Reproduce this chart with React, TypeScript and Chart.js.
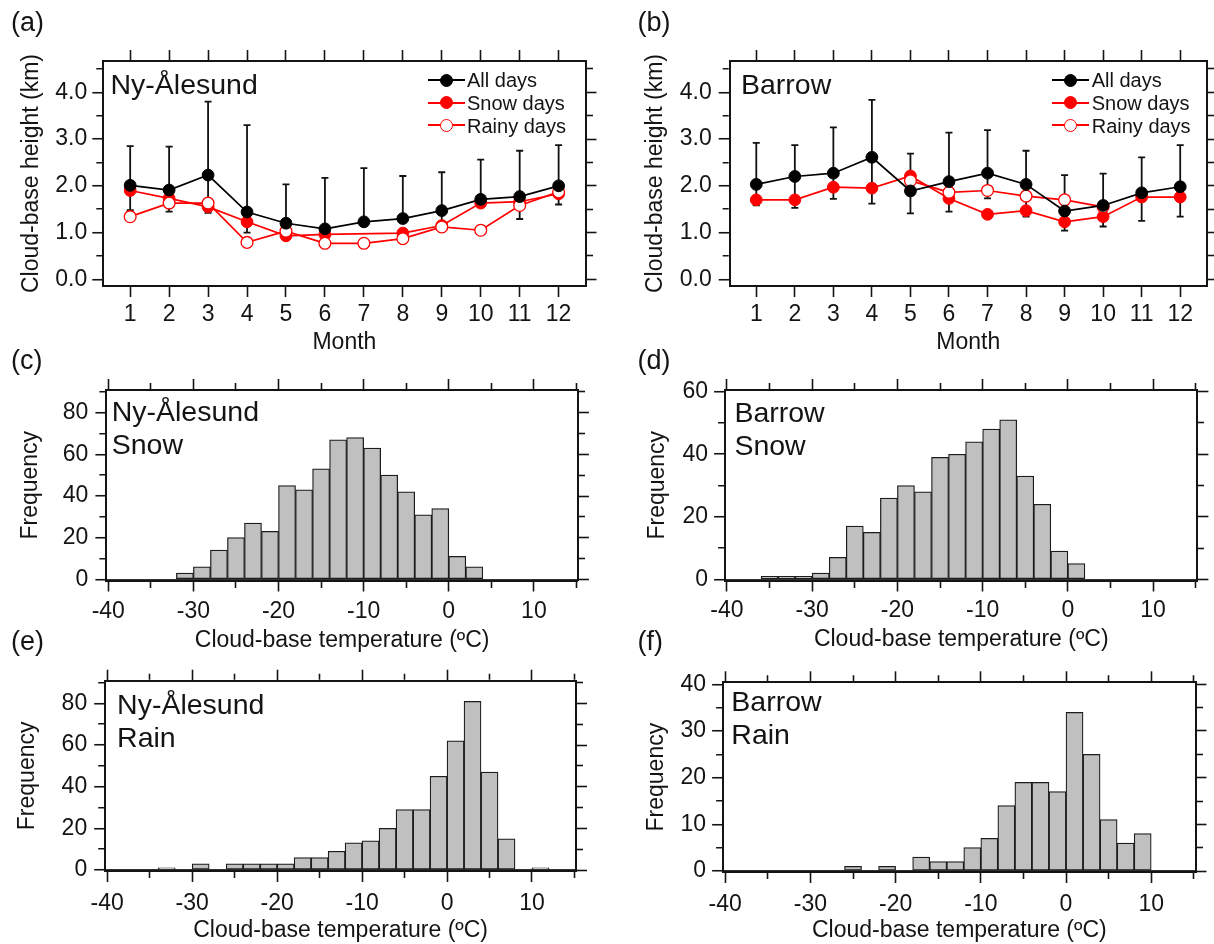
import React, { useEffect, useRef } from "react";
import { Chart, registerables } from "chart.js";

Chart.register(...registerables);

const FONT = '"Liberation Sans", Arial, Helvetica, sans-serif';
const INK = "#141414";
const RED = "#ff0000";

// ---------------- data ----------------
const months = [1, 2, 3, 4, 5, 6, 7, 8, 9, 10, 11, 12];

// (a) Ny-Ålesund monthly cloud-base height (km)
const nyAllDays = [2.01, 1.91, 2.23, 1.44, 1.2, 1.08, 1.23, 1.3, 1.47, 1.71, 1.77, 2.0];
const nyAllHigh = [2.85, 2.84, 3.8, 3.3, 2.03, 2.17, 2.38, 2.21, 2.29, 2.56, 2.75, 2.87];
const nyAllLow = [1.48, 1.45, 1.42, 1.0, null, null, null, null, 1.02, null, 1.29, 1.6];
const nySnowDays = [1.9, 1.73, 1.55, 1.23, 0.93, 0.96, null, 0.99, 1.15, 1.63, 1.66, 1.83];
const nyRainyDays = [1.34, 1.63, 1.63, 0.79, 1.03, 0.77, 0.77, 0.87, 1.12, 1.05, 1.58, 1.87];

// (b) Barrow monthly cloud-base height (km)
const brAllDays = [2.03, 2.2, 2.27, 2.61, 1.89, 2.09, 2.27, 2.03, 1.46, 1.58, 1.85, 1.98];
const brAllHigh = [2.92, 2.87, 3.25, 3.84, 2.69, 3.14, 3.19, 2.75, 2.23, 2.26, 2.61, 2.87];
const brAllLow = [1.58, 1.53, 1.72, 1.62, 1.41, 1.45, 1.73, 1.34, 1.04, 1.13, 1.25, 1.34];
const brSnowDays = [1.7, 1.7, 1.97, 1.95, 2.21, 1.73, 1.39, 1.47, 1.23, 1.34, 1.76, 1.76];
const brRainyDays = [null, null, null, null, 2.11, 1.86, 1.9, 1.78, 1.7, 1.55, null, null];

// histogram bins (2 °C wide), centres
const binCenters = [-39, -37, -35, -33, -31, -29, -27, -25, -23, -21, -19, -17, -15, -13, -11, -9, -7, -5, -3, -1, 1, 3, 5, 7, 9, 11, 13, 15];
const nySnowFreq = [0, 0, 0, 0, 3, 6, 14, 20, 27, 23, 45, 43, 53, 67, 68, 63, 50, 42, 31, 34, 11, 6, 0, 0, 0, 0, 0, 0];
const brSnowFreq = [0, 0, 1, 1, 1, 2, 7, 17, 15, 26, 30, 28, 39, 40, 44, 48, 51, 33, 24, 9, 5, 0, 0, 0, 0, 0, 0, 0];
const nyRainFreq = [0, 0, 0, 1, 0, 3, 0, 3, 3, 3, 3, 6, 6, 9, 13, 14, 20, 29, 29, 45, 62, 81, 47, 15, 0, 1, 0, 0];
const brRainFreq = [0, 0, 0, 0, 0, 0, 0, 1, 0, 1, 0, 3, 2, 2, 5, 7, 14, 19, 19, 17, 34, 25, 11, 6, 8, 0, 0, 0];

const legendLabels = ["All days", "Snow days", "Rainy days"];
const panelLetters = ["(a)", "(b)", "(c)", "(d)", "(e)", "(f)"];
const stationNames = ["Ny-Ålesund", "Barrow"];
const precipTypes = ["Snow", "Rain"];
const xTitleMonth = "Month";
const xTitleTemp = "Cloud-base temperature (ºC)";
const yTitleHeight = "Cloud-base height (km)";
const yTitleFreq = "Frequency";

// ---------------- geometry ----------------
const MAJ = 11;
const MIN = 6;
const BW = 2;
const FS = 23;
const HALF_LH = (FS * 1.2) / 2;
const fontAxis = { family: FONT, size: FS };

const geoA = { cl: 0, ct: 0, cw: 607, ch: 360, L: 103.3, R: 585.5, T: 61, B: 286, xMin: 0.31, xMax: 12.69, xStep: 1, xMajor: 1, yMin: -0.143, yMax: 4.67, yStep: 0.5, yMajor: 1, yDec: 1, xTitle: xTitleMonth, yTitle: yTitleHeight, yTitleX: 31.8, xTitleY: 343, xLabCenter: 29, yLabPad: 5, zeroLine: false };
const geoB = { cl: 607, ct: 0, cw: 607, ch: 360, L: 729.7, R: 1212, T: 61, B: 286, xMin: 0.31, xMax: 12.69, xStep: 1, xMajor: 1, yMin: -0.143, yMax: 4.67, yStep: 0.5, yMajor: 1, yDec: 1, xTitle: xTitleMonth, yTitle: yTitleHeight, yTitleX: 656, xTitleY: 343, xLabCenter: 29, yLabPad: 7, zeroLine: false };
const geoC = { cl: 0, ct: 360, cw: 607, ch: 300, L: 106.4, R: 577.9, T: 390, B: 580.5, xMin: -40.22, xMax: 15.17, xStep: 5, xMajor: 10, yMin: -0.56, yMax: 90.9, yStep: 10, yMajor: 20, yDec: 0, xTitle: xTitleTemp, yTitle: yTitleFreq, yTitleX: 30.2, xTitleY: 640.3, xLabCenter: 31.2, yLabPad: 7, zeroLine: true };
const geoD = { cl: 607, ct: 360, cw: 607, ch: 300, L: 725.1, R: 1197.4, T: 390, B: 580.5, xMin: -40.22, xMax: 15.2, xStep: 5, xMajor: 10, yMin: -0.37, yMax: 60.53, yStep: 10, yMajor: 20, yDec: 0, xTitle: xTitleTemp, yTitle: yTitleFreq, yTitleX: 657.7, xTitleY: 640, xLabCenter: 30.3, yLabPad: 6, zeroLine: true };
const geoE = { cl: 0, ct: 650, cw: 607, ch: 294, L: 105.2, R: 576, T: 680.7, B: 871, xMin: -40.24, xMax: 15.18, xStep: 5, xMajor: 10, yMin: -0.48, yMax: 90.9, yStep: 10, yMajor: 20, yDec: 0, xTitle: xTitleTemp, yTitle: yTitleFreq, yTitleX: 27.7, xTitleY: 931, xLabCenter: 32.3, yLabPad: 7, zeroLine: true };
const geoF = { cl: 607, ct: 650, cw: 607, ch: 294, L: 723.1, R: 1195.5, T: 682.3, B: 872, xMin: -40.25, xMax: 15.2, xStep: 5, xMajor: 10, yMin: -0.21, yMax: 40.43, yStep: 5, yMajor: 10, yDec: 0, xTitle: xTitleTemp, yTitle: yTitleFreq, yTitleX: 656.2, xTitleY: 931, xLabCenter: 33, yLabPad: 6, zeroLine: true };

const isMajor = (v: number, step: number) => Math.abs(v / step - Math.round(v / step)) < 1e-6;

function buildScales(g: any) {
  const rightW = Math.min(MAJ, g.cl + g.cw - g.R);
  const dashOuterFirst = (maj: boolean) => (maj ? [] : [0, MAJ - BW / 2 - MIN, MIN, 100]);
  const dashInnerFirst = (maj: boolean) => (maj ? [] : [MIN, 100]);
  const xm = (c: any) => (c && c.tick ? isMajor(c.tick.value, g.xMajor) : true);
  const ym = (c: any) => (c && c.tick ? isMajor(c.tick.value, g.yMajor) : true);
  const gridBase = { display: true, drawOnChartArea: false, drawTicks: true, tickLength: MAJ, tickWidth: 1.6, tickColor: INK, offset: false };
  const border = { display: true, color: INK, width: BW };
  const xCommon = { type: "linear", min: g.xMin, max: g.xMax, offset: false, display: true };
  const yCommon = { type: "linear", min: g.yMin, max: g.yMax, display: true };
  const xTicks = { stepSize: g.xStep, includeBounds: false, autoSkip: false, maxRotation: 0, minRotation: 0 };
  const yTicks = { stepSize: g.yStep, includeBounds: false, autoSkip: false };
  return {
    x: {
      ...xCommon,
      position: "bottom",
      ticks: { ...xTicks, padding: Math.max(0, g.xLabCenter - MAJ - HALF_LH), color: INK, font: fontAxis, callback: (v: any) => (isMajor(v, g.xMajor) ? String(v) : "") },
      grid: { ...gridBase, tickBorderDash: (c: any) => dashInnerFirst(xm(c)) },
      border,
      title: { display: true, text: g.xTitle, color: INK, font: fontAxis, padding: { top: 0, bottom: Math.max(0, g.ct + g.ch - g.xTitleY - HALF_LH) } },
      afterFit: (s: any) => { s.height = g.ct + g.ch - g.B; },
    },
    x2: {
      ...xCommon,
      position: "top",
      ticks: { ...xTicks, display: false },
      grid: { ...gridBase, tickBorderDash: (c: any) => dashOuterFirst(xm(c)) },
      border,
      afterFit: (s: any) => { s.height = MAJ; },
    },
    y: {
      ...yCommon,
      position: "left",
      ticks: { ...yTicks, padding: g.yLabPad, color: INK, font: fontAxis, callback: (v: any) => (isMajor(v, g.yMajor) ? Number(v).toFixed(g.yDec) : "") },
      grid: {
        ...gridBase,
        drawOnChartArea: g.zeroLine,
        lineWidth: 1.5,
        color: (c: any) => (c && c.tick && c.tick.value === 0 ? "#333333" : "rgba(0,0,0,0)"),
        tickBorderDash: (c: any) => dashOuterFirst(ym(c)),
      },
      border,
      title: { display: true, text: g.yTitle, color: INK, font: fontAxis, padding: { top: g.yTitleX - g.cl - HALF_LH, bottom: 0 } },
      afterFit: (s: any) => { s.width = g.L - g.cl; },
    },
    y2: {
      ...yCommon,
      position: "right",
      ticks: { ...yTicks, display: false },
      grid: { ...gridBase, tickBorderDash: (c: any) => dashInnerFirst(ym(c)) },
      border,
      afterFit: (s: any) => { s.width = rightW; },
    },
  };
}

function baseOptions(g: any) {
  const rightW = Math.min(MAJ, g.cl + g.cw - g.R);
  return {
    animation: false,
    responsive: false,
    devicePixelRatio: 1,
    events: [],
    layout: { padding: { left: 0, top: g.T - g.ct - MAJ, right: g.cl + g.cw - g.R - rightW, bottom: 0 } },
    plugins: { legend: { display: false }, tooltip: { enabled: false }, title: { display: false } },
    scales: buildScales(g),
  };
}

function lineConfig(g: any, all: number[], hi: number[], lo: (number | null)[], snow: (number | null)[], rain: (number | null)[]) {
  const pts = (arr: (number | null)[]) => months.map((m, i) => ({ x: m, y: arr[i] }));
  const errPlugin = {
    id: "errbars",
    beforeDatasetsDraw(chart: any) {
      const ctx = chart.ctx;
      const xs = chart.scales.x;
      const ys = chart.scales.y;
      ctx.save();
      ctx.strokeStyle = "#111111";
      ctx.lineWidth = 1.8;
      ctx.lineCap = "butt";
      months.forEach((m, i) => {
        const px = xs.getPixelForValue(m);
        const pTop = ys.getPixelForValue(hi[i]);
        const hasLo = lo[i] !== null && lo[i] !== undefined;
        const pBot = ys.getPixelForValue(hasLo ? (lo[i] as number) : all[i]);
        ctx.beginPath();
        ctx.moveTo(px, pTop);
        ctx.lineTo(px, pBot);
        ctx.moveTo(px - 3.5, pTop);
        ctx.lineTo(px + 3.5, pTop);
        if (hasLo) {
          ctx.moveTo(px - 3.5, pBot);
          ctx.lineTo(px + 3.5, pBot);
        }
        ctx.stroke();
      });
      ctx.restore();
    },
  };
  const R = 5.9;
  return {
    type: "line",
    data: {
      datasets: [
        { label: legendLabels[0], data: pts(all), borderColor: "#000000", backgroundColor: "#000000", pointBackgroundColor: "#000000", pointBorderColor: "#000000", borderWidth: 1.7, pointRadius: R, pointBorderWidth: 1, tension: 0, fill: false },
        { label: legendLabels[2], data: pts(rain), borderColor: RED, backgroundColor: "#ffffff", pointBackgroundColor: "#ffffff", pointBorderColor: RED, borderWidth: 1.7, pointRadius: R, pointBorderWidth: 1.3, tension: 0, fill: false, spanGaps: false },
        { label: legendLabels[1], data: pts(snow), borderColor: RED, backgroundColor: RED, pointBackgroundColor: RED, pointBorderColor: RED, borderWidth: 1.7, pointRadius: R, pointBorderWidth: 1, tension: 0, fill: false, spanGaps: true },
      ],
    },
    options: baseOptions(g),
    plugins: [errPlugin],
  };
}

function histConfig(g: any, freq: number[]) {
  return {
    type: "bar",
    data: {
      datasets: [
        {
          label: yTitleFreq,
          data: binCenters.map((c, i) => ({ x: c, y: freq[i] })),
          backgroundColor: "#c0c0c0",
          borderColor: "#1c1c1c",
          borderWidth: 1.25,
          borderSkipped: false,
          barPercentage: 1,
          categoryPercentage: 1,
        },
      ],
    },
    options: baseOptions(g),
  };
}

function ChartCanvas({ geo, make }: { geo: any; make: () => any }) {
  const ref = useRef<HTMLCanvasElement | null>(null);
  useEffect(() => {
    if (!ref.current) return;
    const chart = new Chart(ref.current, make());
    return () => chart.destroy();
  }, []);
  return (
    <canvas
      ref={ref}
      width={geo.cw}
      height={geo.ch}
      style={{ position: "absolute", left: geo.cl, top: geo.ct, width: geo.cw, height: geo.ch }}
    />
  );
}

function Txt({ x, y, size, lh, children }: { x: number; y: number; size: number; lh: number; children: any }) {
  return (
    <div
      style={{
        position: "absolute",
        left: x,
        top: y,
        fontFamily: FONT,
        fontSize: size,
        lineHeight: lh + "px",
        whiteSpace: "pre",
        color: INK,
        pointerEvents: "none",
      }}
    >
      {children}
    </div>
  );
}

function Legend({ lineL, lineR, mx, tx }: { lineL: number; lineR: number; mx: number; tx: number }) {
  const rowsY = [80, 102.7, 125.3];
  const styles = [
    { line: "#000000", fill: "#000000", stroke: "#000000" },
    { line: RED, fill: RED, stroke: RED },
    { line: RED, fill: "#ffffff", stroke: RED },
  ];
  return (
    <>
      {legendLabels.map((lab, i) => (
        <React.Fragment key={lab}>
          <div style={{ position: "absolute", left: lineL, top: rowsY[i] - 0.9, width: lineR - lineL, height: 1.8, background: styles[i].line }} />
          <div
            style={{
              position: "absolute",
              left: mx - 6.5,
              top: rowsY[i] - 6.5,
              width: 13,
              height: 13,
              boxSizing: "border-box",
              borderRadius: "50%",
              background: styles[i].fill,
              border: `1.4px solid ${styles[i].stroke}`,
            }}
          />
          <Txt x={tx} y={rowsY[i] - 9.8} size={20} lh={20}>{lab}</Txt>
        </React.Fragment>
      ))}
    </>
  );
}

export default function App() {
  useEffect(() => {
    document.body.style.margin = "0";
    document.body.style.background = "#ffffff";
  }, []);
  return (
    <div style={{ position: "absolute", left: 0, top: 0, width: 1214, height: 944, background: "#ffffff", overflow: "hidden" }}>
      <ChartCanvas geo={geoA} make={() => lineConfig(geoA, nyAllDays, nyAllHigh, nyAllLow, nySnowDays, nyRainyDays)} />
      <ChartCanvas geo={geoB} make={() => lineConfig(geoB, brAllDays, brAllHigh, brAllLow, brSnowDays, brRainyDays)} />
      <ChartCanvas geo={geoC} make={() => histConfig(geoC, nySnowFreq)} />
      <ChartCanvas geo={geoD} make={() => histConfig(geoD, brSnowFreq)} />
      <ChartCanvas geo={geoE} make={() => histConfig(geoE, nyRainFreq)} />
      <ChartCanvas geo={geoF} make={() => histConfig(geoF, brRainFreq)} />

      <Txt x={11} y={8.5} size={27} lh={27}>{panelLetters[0]}</Txt>
      <Txt x={637.5} y={8.5} size={27} lh={27}>{panelLetters[1]}</Txt>
      <Txt x={11} y={346.5} size={27} lh={27}>{panelLetters[2]}</Txt>
      <Txt x={637.5} y={347} size={27} lh={27}>{panelLetters[3]}</Txt>
      <Txt x={11} y={628} size={27} lh={27}>{panelLetters[4]}</Txt>
      <Txt x={637.5} y={627.5} size={27} lh={27}>{panelLetters[5]}</Txt>

      <Txt x={110.5} y={68.4} size={28.5} lh={32}>{stationNames[0]}</Txt>
      <Txt x={741} y={68.4} size={28.5} lh={32}>{stationNames[1]}</Txt>
      <Txt x={111.7} y={395.1} size={28.5} lh={32.5}>{stationNames[0] + "\n" + precipTypes[0]}</Txt>
      <Txt x={734.4} y={396.4} size={28.5} lh={33}>{stationNames[1] + "\n" + precipTypes[0]}</Txt>
      <Txt x={117.1} y={688.1} size={28.5} lh={32.5}>{stationNames[0] + "\n" + precipTypes[1]}</Txt>
      <Txt x={731.3} y={684.8} size={28.5} lh={33}>{stationNames[1] + "\n" + precipTypes[1]}</Txt>

      <Legend lineL={428} lineR={465} mx={446.5} tx={467} />
      <Legend lineL={1052.2} lineR={1089} mx={1070.6} tx={1091.7} />
    </div>
  );
}
